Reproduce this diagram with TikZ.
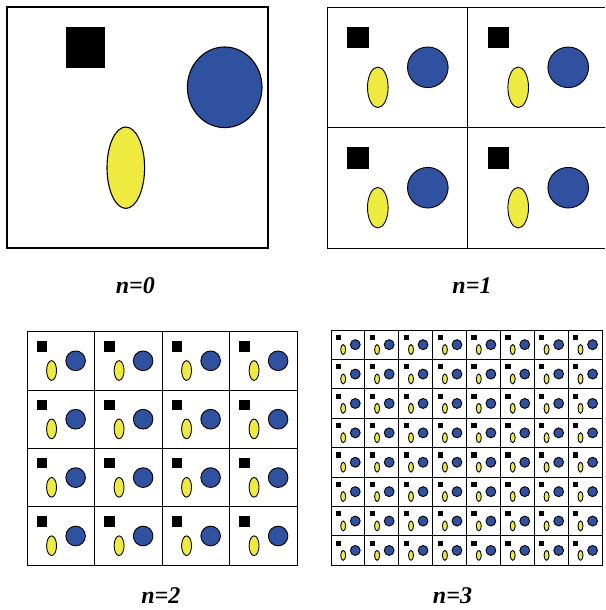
\documentclass[tikz,border=0pt]{standalone}
\usepackage{fontspec}
\setmainfont{Liberation Serif}
\usetikzlibrary{calc}
\definecolor{discblue}{RGB}{48,80,160}
\definecolor{eggyellow}{RGB}{238,234,64}
\tikzset{
  tile/.pic={
    \fill[black] (20,19.5) rectangle (41.5,41);                               % square
    \draw[shape line, fill=discblue] (100.5,60) circle[radius=20.3];         % disc
    \draw[shape line, fill=eggyellow] (50.5,80) ellipse[x radius=10.3, y radius=20.3]; % egg
  }
}
\begin{document}
\begin{tikzpicture}[x=1pt, y=-1pt,
    frame/.style={draw, line width=1.2pt},
    cellbox/.style={draw, line width=0.9pt},
    shape line/.style={line width=0.9pt},
    lbl/.style={anchor=base, inner sep=0pt, font=\fontsize{24}{24}\selectfont\bfseries\itshape}
  ]
  \useasboundingbox (0,0) rectangle (605,610);
  \clip (0,0) rectangle (605,610);

  % n=0: one big cell
  \draw[frame] (7,7) rectangle (268,248);
  \fill[black] (66,27) rectangle (105,68);
  \draw[line width=1.1pt, fill=discblue] (224.7,87.3) ellipse[x radius=37.3, y radius=40.3];
  \draw[line width=1.1pt, fill=eggyellow] (125.8,167.7) ellipse[x radius=18.8, y radius=40.7];

  % n=1, n=2, n=3: grids of tiles
  \foreach \px/\py/\cnt/\w/\h in {327.3/7.3/2/140.4/120.4, 27.3/331.7/4/67.5/58.4, 331/330/8/33.9/29.4}{
    \foreach \i in {1,...,\cnt} \foreach \j in {1,...,\cnt}{
      \draw[cellbox] ({\px+\w*(\i-1)},{\py+\h*(\j-1)}) rectangle ++(\w,\h);
      \pic[shift={({\px+\w*(\i-1)},{\py+\h*(\j-1)})}, xscale=\w/140.4, yscale=\h/120.4] {tile};
    }
  }

  \node[lbl] (lab0) at (135.3,293.3) {n=0};
  \node[lbl] (lab1) at (472,293.3) {n=1};
  \node[lbl] (lab2) at (160.8,603) {n=2};
  \node[lbl] (lab3) at (452.5,603) {n=3};
\end{tikzpicture}
\end{document}
